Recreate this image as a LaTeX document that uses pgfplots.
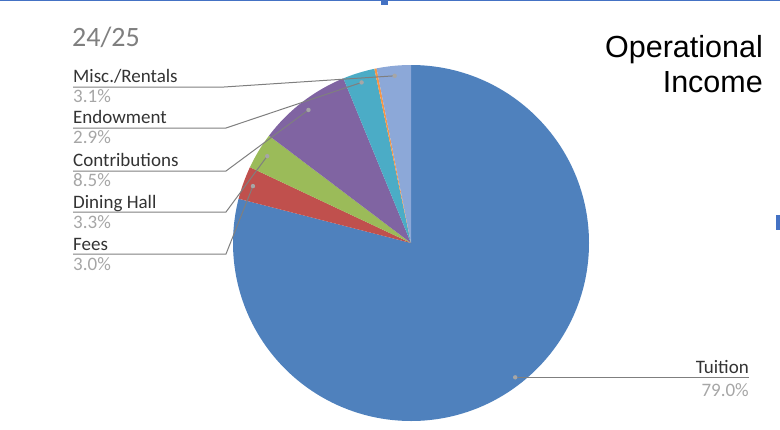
\documentclass[border=0pt]{standalone}
\usepackage{fontspec}
\setmainfont{Carlito}
\newfontfamily\arialfont{Liberation Sans}
\usepackage{pgfplots}
\usepackage{pgfplotstable}
\pgfplotsset{compat=1.18}
\definecolor{cA}{HTML}{4F81BD}
\definecolor{cB}{HTML}{C0504D}
\definecolor{cC}{HTML}{9BBB59}
\definecolor{cD}{HTML}{8064A2}
\definecolor{cE}{HTML}{4BACC6}
\definecolor{cF}{HTML}{F79646}
\definecolor{cG}{HTML}{8CA8D8}
\definecolor{leader}{HTML}{7F7F7F}
\definecolor{dotc}{HTML}{A6A6A6}
\definecolor{pctc}{HTML}{A6A6A6}
\definecolor{namec}{HTML}{333333}
\definecolor{yearc}{HTML}{7F7F7F}
\definecolor{selblue}{HTML}{4472C4}

\pgfplotstableread{
name pct
Tuition 79.0
Fees 3.0
DiningHall 3.3
Contributions 8.5
Endowment 2.9
Other 0.2
Misc 3.1
}\pietable

\begin{document}
\begin{tikzpicture}
\useasboundingbox (0,0) rectangle (780bp,430bp);
\def\curang{90}
\pgfplotsforeachungrouped \i in {0,...,6}{%
  \pgfplotstablegetelem{\i}{pct}\of\pietable
  \pgfmathsetmacro\endang{\curang-3.6*\pgfplotsretval}%
  \pgfmathsetmacro\midang{(\curang+\endang)/2}%
  \expandafter\xdef\csname sA\i\endcsname{\curang}%
  \expandafter\xdef\csname eA\i\endcsname{\endang}%
  \expandafter\xdef\csname mA\i\endcsname{\midang}%
  \xdef\curang{\endang}%
}
\begin{axis}[at={(0,0)}, anchor=south west, width=780bp, height=430bp,
  scale only axis, xmin=0, xmax=780, ymin=0, ymax=430, y dir=reverse,
  hide axis, clip=false]
% wedges
\fill[cA] (axis cs:411,243) -- ++(\csname sA0\endcsname:178bp) arc[start angle=\csname sA0\endcsname, end angle=\csname eA0\endcsname, radius=178bp] -- cycle;
\fill[cB] (axis cs:411,243) -- ++(\csname sA1\endcsname:178bp) arc[start angle=\csname sA1\endcsname, end angle=\csname eA1\endcsname, radius=178bp] -- cycle;
\fill[cC] (axis cs:411,243) -- ++(\csname sA2\endcsname:178bp) arc[start angle=\csname sA2\endcsname, end angle=\csname eA2\endcsname, radius=178bp] -- cycle;
\fill[cD] (axis cs:411,243) -- ++(\csname sA3\endcsname:178bp) arc[start angle=\csname sA3\endcsname, end angle=\csname eA3\endcsname, radius=178bp] -- cycle;
\fill[cE] (axis cs:411,243) -- ++(\csname sA4\endcsname:178bp) arc[start angle=\csname sA4\endcsname, end angle=\csname eA4\endcsname, radius=178bp] -- cycle;
\fill[cF] (axis cs:411,243) -- ++(\csname sA5\endcsname:178bp) arc[start angle=\csname sA5\endcsname, end angle=\csname eA5\endcsname, radius=178bp] -- cycle;
\fill[cG] (axis cs:411,243) -- ++(\csname sA6\endcsname:178bp) arc[start angle=\csname sA6\endcsname, end angle=\csname eA6\endcsname, radius=178bp] -- cycle;
% leader anchor points at slice middles
\path (axis cs:411,243) ++(\csname mA0\endcsname:170bp) coordinate (d0);
\path (axis cs:411,243) ++(\csname mA1\endcsname:168bp) coordinate (d1);
\path (axis cs:411,243) ++(\csname mA2\endcsname:168bp) coordinate (d2);
\path (axis cs:411,243) ++(\csname mA3\endcsname:168bp) coordinate (d3);
\path (axis cs:411,243) ++(\csname mA4\endcsname:168bp) coordinate (d4);
\path (axis cs:411,243) ++(\csname mA6\endcsname:168bp) coordinate (d6);
% leader lines
\draw[leader, line width=1bp] (axis cs:73,87) -- (axis cs:224,87) -- (d6);
\draw[leader, line width=1bp] (axis cs:73,128) -- (axis cs:226,128) -- (d4);
\draw[leader, line width=1bp] (axis cs:73,171) -- (axis cs:226,171) -- (d3);
\draw[leader, line width=1bp] (axis cs:73,212) -- (axis cs:226,212) -- (d2);
\draw[leader, line width=1bp] (axis cs:73,254) -- (axis cs:226,254) -- (d1);
\draw[leader, line width=1bp] (d0) -- (d0 -| {axis cs:749,0});
\fill[dotc] (d0) circle[radius=2.2bp];
\fill[dotc] (d1) circle[radius=2.2bp];
\fill[dotc] (d2) circle[radius=2.2bp];
\fill[dotc] (d3) circle[radius=2.2bp];
\fill[dotc] (d4) circle[radius=2.2bp];
\fill[dotc] (d6) circle[radius=2.2bp];
% labels
\node[anchor=base west, inner sep=0, text=namec, font=\fontsize{19bp}{23bp}\selectfont] at (axis cs:73,82) {Misc./Rentals};
\node[anchor=base west, inner sep=0, text=pctc, font=\fontsize{19bp}{23bp}\selectfont] at (axis cs:73,102) {3.1\%};
\node[anchor=base west, inner sep=0, text=namec, font=\fontsize{19bp}{23bp}\selectfont] at (axis cs:73,123.5) {Endowment};
\node[anchor=base west, inner sep=0, text=pctc, font=\fontsize{19bp}{23bp}\selectfont] at (axis cs:73,143.5) {2.9\%};
\node[anchor=base west, inner sep=0, text=namec, font=\fontsize{19bp}{23bp}\selectfont] at (axis cs:73,166) {Contributions};
\node[anchor=base west, inner sep=0, text=pctc, font=\fontsize{19bp}{23bp}\selectfont] at (axis cs:73,186) {8.5\%};
\node[anchor=base west, inner sep=0, text=namec, font=\fontsize{19bp}{23bp}\selectfont] at (axis cs:73,208) {Dining Hall};
\node[anchor=base west, inner sep=0, text=pctc, font=\fontsize{19bp}{23bp}\selectfont] at (axis cs:73,228) {3.3\%};
\node[anchor=base west, inner sep=0, text=namec, font=\fontsize{19bp}{23bp}\selectfont] at (axis cs:73,250) {Fees};
\node[anchor=base west, inner sep=0, text=pctc, font=\fontsize{19bp}{23bp}\selectfont] at (axis cs:73,270.5) {3.0\%};
\node[anchor=base east, inner sep=0, text=namec, font=\fontsize{19bp}{23bp}\selectfont] at (axis cs:749,373) {Tuition};
\node[anchor=base east, inner sep=0, text=pctc, font=\fontsize{19bp}{23bp}\selectfont] at (axis cs:749,396) {79.0\%};
\node[anchor=base west, inner sep=0, text=yearc, font=\fontsize{28bp}{32bp}\selectfont] at (axis cs:72,46.5) {24/25};
\node[anchor=base east, inner sep=0, text=black, font=\arialfont\fontsize{30.5bp}{35bp}\selectfont] at (axis cs:763,57) {Operational};
\node[anchor=base east, inner sep=0, text=black, font=\arialfont\fontsize{30.5bp}{35bp}\selectfont] at (axis cs:763,92) {Income};
\end{axis}
% selection frame remnants of the screenshot
\fill[selblue] (0,428.5bp) rectangle (780bp,430bp);
\fill[selblue] (381bp,425bp) rectangle (388bp,430bp);
\fill[selblue] (776bp,200bp) rectangle (780bp,215bp);
\end{tikzpicture}
\end{document}
